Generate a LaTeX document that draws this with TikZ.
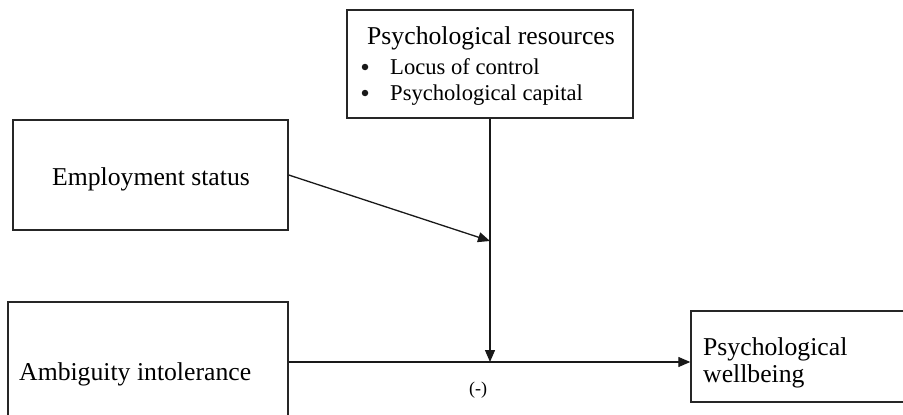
\documentclass[tikz,border=0pt]{standalone}
\usepackage{fontspec}
\setmainfont{Liberation Serif}
\usetikzlibrary{arrows.meta}
\begin{document}
\begin{tikzpicture}[x=1pt,y=-1pt,
  box/.style={draw=black!85, line width=1.4pt, inner sep=0pt},
  big/.style={font=\fontsize{25.7}{27}\selectfont, inner sep=0pt},
  small/.style={font=\fontsize{22.6}{26}\selectfont, inner sep=0pt},
  dot/.style={circle, fill=black!90, inner sep=0pt, minimum size=6.5pt},
  conn/.style={draw=black!90, line width=1.3pt, -{Triangle[length=12pt,width=10pt]}}]
\clip (0,0) rectangle (903,415);
% boxes
\node[box, minimum width=286pt, minimum height=108pt] (psy) at (490,64) {};
\node[box, minimum width=275pt, minimum height=110pt] (emp) at (150.5,175) {};
\node[box, minimum width=280pt, minimum height=128pt] (amb) at (148,366) {};
\node[box, minimum width=224pt, minimum height=91pt] (wel) at (803,356.5) {};
% texts
\node[big, anchor=base west] (psyt) at (367,45) {Psychological resources};
\node[dot] (b1) at (365,67) {};
\node[small, anchor=base west] (i1) at (390,74) {Locus of control};
\node[dot] (b2) at (365,93) {};
\node[small, anchor=base west] (i2) at (390,100) {Psychological capital};
\node[big, anchor=base] (empt) at (151,185) {Employment status};
\node[big, anchor=base west] (ambt) at (19,380) {Ambiguity intolerance};
\node[big, anchor=base west] (welt1) at (703,355) {Psychological};
\node[big, anchor=base west] (welt2) at (703,382) {wellbeing};
\node[font=\fontsize{18}{20}\selectfont, inner sep=0pt] (neg) at (478,390) {(-)};
% connectors
\coordinate (j) at (490,362);
\coordinate (k) at (490,241);
\draw[conn] (psy.south) -- (j);
\draw[conn] (emp.east) -- (k);
\draw[conn] (j -| amb.east) -- (j -| wel.west);
\end{tikzpicture}
\end{document}
